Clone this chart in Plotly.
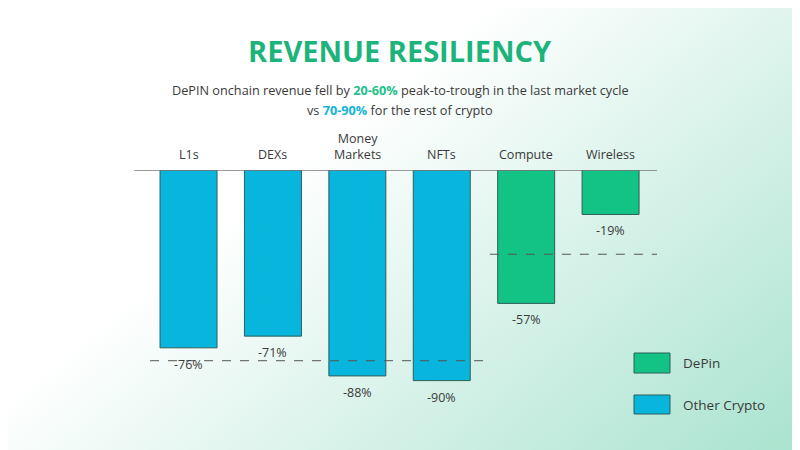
import base64
import plotly.graph_objects as go

# ---- data ----
categories = ["L1s", "DEXs", "Money<br>Markets", "NFTs", "Compute", "Wireless"]
values = [-76, -71, -88, -90, -57, -19]
groups = ["Other Crypto", "Other Crypto", "Other Crypto", "Other Crypto", "DePin", "DePin"]
value_labels = ["-76%", "-71%", "-88%", "-90%", "-57%", "-19%"]
other_avg = -81.5
depin_avg = -36

# ---- style ----
W, H = 800, 450
OFF = 8  # page body margin compensation
PL, PT, PW, PH = 134, 170, 523, 234  # plot area in reference pixels
ML, MT = PL - OFF, PT - OFF
MR, MB = W - ML - PW, H - MT - PH
BLUE = "#08b5dd"
GREEN = "#13c285"
OUTLINE = "#2e5f5a"
TXT = "#3a3a3a"
FONT = "Open Sans"
colors = {"Other Crypto": BLUE, "DePin": GREEN}

x_idx = list(range(len(categories)))

fig = go.Figure()
for g in ["Other Crypto", "DePin"]:
    xs = [i for i, gg in zip(x_idx, groups) if gg == g]
    ys = [v for v, gg in zip(values, groups) if gg == g]
    fig.add_trace(go.Bar(
        x=xs, y=ys, name=g, width=0.675,
        marker=dict(color=colors[g], line=dict(color=OUTLINE, width=1)),
        showlegend=False, hoverinfo="skip",
    ))

annotations = []
for i, v, lab in zip(x_idx, values, value_labels):
    annotations.append(dict(x=i, y=v, xref="x", yref="y", text=lab, showarrow=False,
                            yanchor="middle", yshift=-16.5,
                            font=dict(family=FONT, size=12.5, color=TXT)))
for i, c in zip(x_idx, categories):
    annotations.append(dict(x=i, y=0, xref="x", yref="y", text=c, showarrow=False,
                            yanchor="bottom", yshift=6, borderpad=0,
                            font=dict(family=FONT, size=12.5, color=TXT)))

def px_x(p):
    return (p - PL) / PW

def px_y(p):
    return (PT + PH - p) / PH

annotations.append(dict(x=px_x(400), y=px_y(50), xref="paper", yref="paper",
                        text="<b>REVENUE RESILIENCY</b>", showarrow=False,
                        xanchor="center", yanchor="middle",
                        font=dict(family=FONT, size=29, color="#1db47c", weight=800)))
annotations.append(dict(x=px_x(400), y=px_y(90), xref="paper", yref="paper",
                        text=("DePIN onchain revenue fell by <b><span style='color:#22c08a'>20-60%</span></b> "
                              "peak-to-trough in the last market cycle"),
                        showarrow=False, xanchor="center", yanchor="middle",
                        font=dict(family=FONT, size=12.7, color=TXT)))
annotations.append(dict(x=px_x(400), y=px_y(110), xref="paper", yref="paper",
                        text="vs <b><span style='color:#12b3d6'>70-90%</span></b> for the rest of crypto",
                        showarrow=False, xanchor="center", yanchor="middle",
                        font=dict(family=FONT, size=12.7, color=TXT)))

shapes = []
legend_items = [("DePin", GREEN, 353, 373), ("Other Crypto", BLUE, 395, 414)]
for name, col, y0, y1 in legend_items:
    shapes.append(dict(type="rect", xref="paper", yref="paper",
                       x0=px_x(634), x1=px_x(670), y0=px_y(y1), y1=px_y(y0),
                       fillcolor=col, line=dict(color=OUTLINE, width=1)))
    annotations.append(dict(x=px_x(681), y=px_y((y0 + y1) / 2), xref="paper", yref="paper",
                            text=name, showarrow=False, xanchor="left", yanchor="middle",
                            font=dict(family=FONT, size=13.5, color=TXT)))

shapes.append(dict(type="line", xref="paper", yref="y", x0=0, x1=1, y0=0, y1=0,
                   line=dict(color="#7a7a7a", width=1.5), layer="above"))
shapes.append(dict(type="line", xref="x", yref="y", x0=-0.456, x1=3.525,
                   y0=other_avg, y1=other_avg,
                   line=dict(color="#555555", width=1, dash="dash"), layer="above"))
shapes.append(dict(type="line", xref="x", yref="y", x0=3.57, x1=5.55,
                   y0=depin_avg, y1=depin_avg,
                   line=dict(color="#555555", width=1, dash="dash"), layer="above"))

gx1, gy1, gx2, gy2 = 200 - OFF, 240 - OFF, 555 - OFF, 675 - OFF
svg = f"""<svg xmlns='http://www.w3.org/2000/svg' width='{W}' height='{H}' viewBox='0 0 {W} {H}' preserveAspectRatio='none'>
<defs><linearGradient id='g' gradientUnits='userSpaceOnUse' x1='{gx1}' y1='{gy1}' x2='{gx2}' y2='{gy2}'>
<stop offset='0' stop-color='#ffffff'/><stop offset='1' stop-color='#a6e2cd'/></linearGradient></defs>
<rect x='0' y='0' width='{W}' height='{H}' fill='url(#g)'/></svg>"""
src = "data:image/svg+xml;base64," + base64.b64encode(svg.encode()).decode()

fig.update_layout(
    width=W, height=H,
    margin=dict(l=ML, r=MR, t=MT, b=MB, pad=0),
    paper_bgcolor="white", plot_bgcolor="rgba(0,0,0,0)",
    barmode="overlay",
    xaxis=dict(range=[-0.646, 5.55], visible=False, fixedrange=True),
    yaxis=dict(range=[-100, 0], visible=False, fixedrange=True),
    annotations=annotations, shapes=shapes,
    images=[dict(source=src, xref="paper", yref="paper",
                 x=-ML / PW, y=1 + MT / PH, sizex=W / PW, sizey=H / PH,
                 xanchor="left", yanchor="top", sizing="stretch", layer="below")],
    showlegend=False,
)

fig.write_html("out.html")
